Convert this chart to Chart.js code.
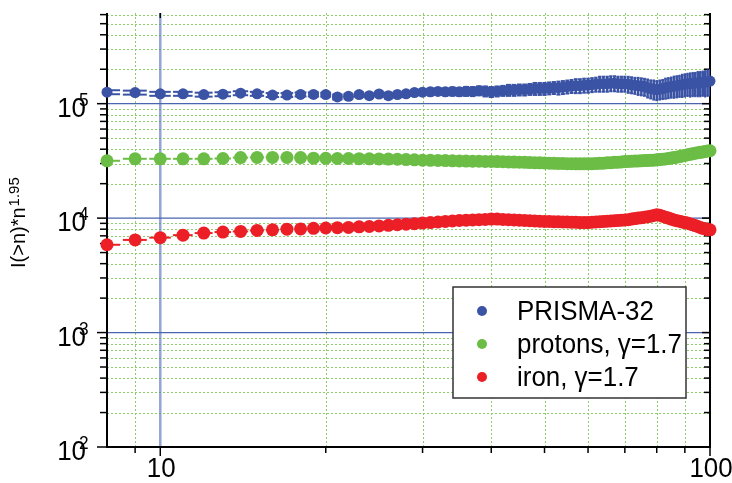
<!DOCTYPE html>
<html>
<head>
<meta charset="utf-8">
<script src="https://cdn.jsdelivr.net/npm/chart.js@4.4.0/dist/chart.umd.min.js"></script>
<style>
html, body { margin: 0; padding: 0; background: #fff; }
#wrap { width: 732px; height: 483px; position: relative; }
</style>
</head>
<body>
<div id="wrap"><canvas id="chart"></canvas></div>
<script>
// multiplicity n (x axis)
const nValues = [
    8, 9, 10, 11, 12, 13, 14, 15, 16, 17,
    18, 19, 20, 21, 22, 23, 24, 25, 26, 27,
    28, 29, 30, 31, 32, 33, 34, 35, 36, 37,
    38, 39, 40, 41, 42, 43, 44, 45, 46, 47,
    48, 49, 50, 51, 52, 53, 54, 55, 56, 57,
    58, 59, 60, 61, 62, 63, 64, 65, 66, 67,
    68, 69, 70, 71, 72, 73, 74, 75, 76, 77,
    78, 79, 80, 81, 82, 83, 84, 85, 86, 87,
    88, 89, 90, 91, 92, 93, 94, 95, 96, 97,
    98, 99, 100
];

// I(>n)*n^1.95, PRISMA-32
const prismaValues = [
    126000, 125000, 122000, 122000, 120000, 121000, 123500, 122000, 119000, 119000,
    120500, 120500, 120000, 114500, 116000, 120000, 117500, 121500, 117500, 120000,
    122000, 125000, 126000, 127000, 128000, 127000, 128000, 127000, 128500, 128000,
    130000, 128500, 127000, 128500, 130000, 131500, 131500, 132500, 132500, 134000,
    135500, 135500, 135500, 137000, 138000, 138000, 139500, 141000, 142500, 143700,
    143700, 145000, 145000, 146700, 148000, 149600, 149600, 149600, 151000, 151000,
    149600, 149600, 149600, 148000, 146700, 145000, 143700, 142500, 141000, 138000,
    135500, 134000, 132500, 134000, 135500, 138000, 139500, 141000, 142500, 143700,
    145000, 146700, 148000, 149600, 149600, 151000, 151000, 152700, 152700, 154000,
    154000, 155800, 157500
];

// relative error of PRISMA-32 points
const prismaErrors = [
    0.04, 0.04, 0.04, 0.04, 0.04, 0.04, 0.04, 0.04, 0.04, 0.04,
    0.04, 0.04, 0.04, 0.05, 0.05, 0.05, 0.05, 0.05, 0.06, 0.06,
    0.06, 0.06, 0.06, 0.07, 0.07, 0.07, 0.08, 0.08, 0.09, 0.09,
    0.09, 0.10, 0.10, 0.10, 0.10, 0.11, 0.11, 0.11, 0.11, 0.11,
    0.12, 0.12, 0.12, 0.12, 0.12, 0.13, 0.13, 0.13, 0.13, 0.14,
    0.14, 0.14, 0.14, 0.14, 0.14, 0.15, 0.15, 0.15, 0.15, 0.15,
    0.15, 0.15, 0.15, 0.16, 0.16, 0.16, 0.17, 0.17, 0.17, 0.18,
    0.18, 0.19, 0.19, 0.19, 0.19, 0.20, 0.20, 0.20, 0.21, 0.21,
    0.21, 0.22, 0.22, 0.22, 0.23, 0.23, 0.23, 0.24, 0.24, 0.24,
    0.25, 0.25, 0.25
];

// simulation: protons, gamma = 1.7
const protonValues = [
    31700, 33000, 33000, 33000, 33000, 33200, 33800, 33900, 33900, 33900,
    33800, 33400, 33300, 33200, 33200, 33100, 33000, 32900, 32800, 32700,
    32500, 32300, 32100, 32000, 31900, 31800, 31700, 31600, 31500, 31400,
    31400, 31300, 31300, 31200, 31100, 31000, 30900, 30800, 30700, 30600,
    30500, 30400, 30300, 30200, 30100, 30000, 30000, 29900, 29900, 29800,
    29800, 29800, 29800, 29900, 30000, 30100, 30200, 30400, 30500, 30700,
    30800, 31000, 31200, 31300, 31400, 31500, 31600, 31700, 31800, 31900,
    32000, 32100, 32300, 32500, 32700, 32900, 33200, 33500, 33800, 34100,
    34500, 34900, 35300, 35700, 36100, 36500, 36900, 37300, 37600, 37900,
    38200, 38500, 38800
];

// simulation: iron, gamma = 1.7
const ironValues = [
    5850, 6450, 6750, 7100, 7400, 7550, 7650, 7800, 7900, 8000,
    8050, 8150, 8200, 8250, 8300, 8400, 8450, 8550, 8650, 8750,
    8850, 8950, 9050, 9150, 9250, 9350, 9450, 9550, 9600, 9650,
    9700, 9750, 9800, 9800, 9750, 9700, 9650, 9600, 9550, 9500,
    9450, 9400, 9350, 9350, 9300, 9300, 9250, 9250, 9200, 9200,
    9150, 9150, 9150, 9200, 9250, 9300, 9350, 9400, 9450, 9500,
    9550, 9600, 9650, 9700, 9800, 9900, 10000, 10100, 10200, 10300,
    10400, 10550, 10700, 10600, 10400, 10200, 10000, 9800, 9650, 9500,
    9400, 9250, 9150, 9050, 8900, 8750, 8600, 8450, 8300, 8150,
    8050, 7950, 7900
];

const seriesLabels = ['PRISMA-32', 'protons, \u03b3=1.7', 'iron, \u03b3=1.7'];
const seriesColors = ['#3b53a4', '#6bbd45', '#ec1f26'];

// axis ticks
const xMajorTicks = [10, 100];
const xTickLabels = ['10', '100'];
const xMinorTicks = [9, 20, 30, 40, 50, 60, 70, 80, 90];
const yMajorTicks = [100, 1000, 10000, 100000];
const yTickExponents = ['2', '3', '4', '5'];
const yMinorTicks = [];
[100, 1000, 10000, 100000].forEach(d => {
    [2, 3, 4, 5, 6, 7, 8, 9].forEach(m => {
        if (m * d <= 600000) yMinorTicks.push(m * d);
    });
});

const FONT = '"Liberation Sans", Arial, sans-serif';
const SQUISH = 0.96;

function line(ctx, x1, y1, x2, y2) {
    ctx.beginPath();
    ctx.moveTo(x1, y1);
    ctx.lineTo(x2, y2);
    ctx.stroke();
}

function drawText(ctx, str, x, y, size, align) {
    ctx.save();
    ctx.translate(x, y);
    ctx.scale(SQUISH, 1);
    ctx.font = size + 'px ' + FONT;
    ctx.textAlign = align;
    ctx.textBaseline = 'alphabetic';
    ctx.fillStyle = '#000';
    ctx.fillText(str, 0, 0);
    ctx.restore();
}

function toPoints(values) {
    return nValues.map((n, i) => ({ x: n, y: values[i] }));
}

// grid, axes, labels, error bars
const framePlugin = {
    id: 'frame',
    beforeDatasetsDraw(chart) {
        const { ctx, chartArea: a, scales: { x, y } } = chart;
        ctx.save();

        // minor grid (green dotted)
        ctx.strokeStyle = '#8ccf6a';
        ctx.lineWidth = 1;
        ctx.setLineDash([2, 2]);
        xMinorTicks.forEach(v => {
            const px = Math.round(x.getPixelForValue(v)) + 0.5;
            line(ctx, px, a.top, px, a.bottom);
        });
        yMinorTicks.forEach(v => {
            const py = Math.round(y.getPixelForValue(v)) + 0.5;
            line(ctx, a.left, py, a.right, py);
        });
        ctx.setLineDash([]);

        // major grid (blue)
        ctx.strokeStyle = 'rgba(110,135,200,0.75)';
        ctx.lineWidth = 2.5;
        line(ctx, x.getPixelForValue(10), a.top, x.getPixelForValue(10), a.bottom);
        ctx.strokeStyle = '#4a64b0';
        ctx.lineWidth = 1.3;
        [1000, 10000, 100000].forEach(v => {
            const py = y.getPixelForValue(v);
            line(ctx, a.left, py, a.right, py);
        });

        // axes
        ctx.strokeStyle = '#000';
        ctx.lineWidth = 2;
        line(ctx, a.left, a.top, a.left, a.bottom + 1);
        line(ctx, a.left - 1, a.bottom, a.right + 1, a.bottom);
        line(ctx, a.right, a.top, a.right, a.bottom + 1);

        // ticks
        ctx.lineWidth = 1.5;
        yMinorTicks.forEach(v => {
            const py = y.getPixelForValue(v);
            line(ctx, a.left - 7, py, a.left, py);
            line(ctx, a.right - 6, py, a.right, py);
        });
        yMajorTicks.forEach(v => {
            const py = y.getPixelForValue(v);
            line(ctx, a.left - 10, py, a.left, py);
            line(ctx, a.right - 8, py, a.right, py);
        });
        xMinorTicks.forEach(v => {
            const px = x.getPixelForValue(v);
            line(ctx, px, a.bottom, px, a.bottom + 6);
        });
        xMajorTicks.forEach(v => {
            const px = x.getPixelForValue(v);
            line(ctx, px, a.bottom, px, a.bottom + 9);
        });
        line(ctx, x.getPixelForValue(10), a.top, x.getPixelForValue(10), a.top + 5);

        // tick labels
        xMajorTicks.forEach((v, i) => {
            drawText(ctx, xTickLabels[i], x.getPixelForValue(v) + 1, 477, 27, 'center');
        });
        yMajorTicks.forEach((v, i) => {
            const py = y.getPixelForValue(v);
            drawText(ctx, '10', 86, py + 13, 27, 'right');
            drawText(ctx, yTickExponents[i], 79, py + 2, 18, 'left');
        });

        // y axis title, rotated
        ctx.save();
        ctx.translate(25, 268);
        ctx.rotate(-Math.PI / 2);
        ctx.fillStyle = '#000';
        ctx.textBaseline = 'alphabetic';
        ctx.font = '20px ' + FONT;
        const mainTitle = 'I(>n)*n';
        ctx.fillText(mainTitle, 0, 0);
        const w = ctx.measureText(mainTitle).width;
        ctx.font = '15px ' + FONT;
        ctx.fillText('1.95', w + 1, -6);
        ctx.restore();

        // error bars
        ctx.beginPath();
        ctx.rect(a.left, a.top - 20, a.right - a.left, a.bottom - a.top + 20);
        ctx.clip();
        const half = 0.45;
        ctx.strokeStyle = seriesColors[0];
        nValues.forEach((n, i) => {
            const v = prismaValues[i], e = prismaErrors[i];
            const px = x.getPixelForValue(n);
            const xl = x.getPixelForValue(n - half), xr = x.getPixelForValue(n + half);
            const yt = y.getPixelForValue(v * (1 + e)), yb = y.getPixelForValue(v * (1 - e));
            ctx.lineWidth = 2.5;
            line(ctx, px, yt, px, yb);
            ctx.lineWidth = 2;
            line(ctx, xl, yt, xr, yt);
            line(ctx, xl, yb, xr, yb);
        });
        [[protonValues, seriesColors[1]], [ironValues, seriesColors[2]]].forEach(([vals, col]) => {
            ctx.strokeStyle = col;
            ctx.lineWidth = 2;
            nValues.forEach((n, i) => {
                const py = y.getPixelForValue(vals[i]);
                line(ctx, x.getPixelForValue(n - half), py, x.getPixelForValue(n + half), py);
            });
        });
        ctx.restore();
    },
    afterDraw(chart) {
        // legend box
        const { ctx } = chart;
        ctx.save();
        ctx.fillStyle = '#fff';
        ctx.fillRect(453, 287, 233, 111);
        ctx.strokeStyle = '#333';
        ctx.lineWidth = 1.5;
        ctx.strokeRect(453, 287, 233, 111);
        chart.data.datasets.forEach((ds, i) => {
            const cy = 311 + i * 33;
            ctx.fillStyle = ds.backgroundColor;
            ctx.beginPath();
            ctx.arc(482, cy, 5, 0, Math.PI * 2);
            ctx.fill();
            drawText(ctx, ds.label, 517, cy + 9, 27, 'left');
        });
        ctx.restore();
    }
};

new Chart(document.getElementById('chart'), {
    type: 'scatter',
    data: {
        datasets: [
            {
                label: seriesLabels[0],
                data: toPoints(prismaValues),
                backgroundColor: seriesColors[0],
                borderColor: seriesColors[0],
                pointRadius: 5.5,
                borderWidth: 0,
                clip: false
            },
            {
                label: seriesLabels[1],
                data: toPoints(protonValues),
                backgroundColor: seriesColors[1],
                borderColor: seriesColors[1],
                pointRadius: 6.5,
                borderWidth: 0,
                clip: false
            },
            {
                label: seriesLabels[2],
                data: toPoints(ironValues),
                backgroundColor: seriesColors[2],
                borderColor: seriesColors[2],
                pointRadius: 6.5,
                borderWidth: 0,
                clip: false
            }
        ]
    },
    options: {
        responsive: true,
        maintainAspectRatio: false,
        animation: false,
        events: [],
        layout: {
            padding: { left: 107, right: 22, top: 13, bottom: 36 }
        },
        plugins: {
            legend: { display: false },
            tooltip: { enabled: false },
            title: { display: false }
        },
        scales: {
            x: { type: 'logarithmic', min: 8, max: 100, display: false },
            y: { type: 'logarithmic', min: 100, max: 620000, display: false }
        }
    },
    plugins: [framePlugin]
});
</script>
</body>
</html>
